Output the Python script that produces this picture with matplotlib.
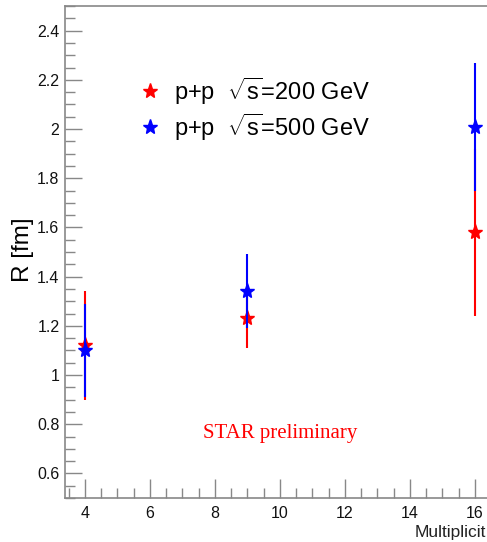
import matplotlib
matplotlib.use('Agg')
import matplotlib.pyplot as plt
from matplotlib.ticker import MultipleLocator

plt.rcParams['font.family'] = ['Liberation Sans', 'DejaVu Sans']
plt.rcParams['mathtext.fontset'] = 'custom'
plt.rcParams['mathtext.rm'] = 'Liberation Sans'

# Data
mult = [4, 9, 16]
r_200 = [1.12, 1.23, 1.58]
err_200 = [0.22, 0.12, 0.34]
r_500 = [1.10, 1.34, 2.01]
err_500 = [0.19, 0.15, 0.26]

fig = plt.figure(figsize=(4.87, 5.42), dpi=100)
W, H = 487, 542
ax = fig.add_axes([65 / W, (H - 498) / H, (W - 65) / W, (498 - 6) / H])

ax.errorbar(mult, r_200, yerr=err_200, fmt='*', color='red', ecolor='red',
            markersize=11, elinewidth=1.5, capsize=0, zorder=3)
ax.errorbar(mult, r_500, yerr=err_500, fmt='*', color='blue', ecolor='blue',
            markersize=11, elinewidth=1.5, capsize=0, zorder=4)

x0 = 3.39
ppu_x = 32.5   # pixels per unit on x
ax.set_xlim(x0, x0 + 422 / ppu_x)
ax.set_ylim(0.5, 2.5)

ax.xaxis.set_major_locator(MultipleLocator(2))
ax.xaxis.set_minor_locator(MultipleLocator(0.5))
ax.yaxis.set_major_locator(MultipleLocator(0.2))
ax.yaxis.set_minor_locator(MultipleLocator(0.05))
ax.yaxis.set_major_formatter(plt.FuncFormatter(lambda v, p: f'{v:g}'))

grey = '#888888'
for s in ['left', 'top', 'bottom']:
    ax.spines[s].set_color(grey)
    ax.spines[s].set_linewidth(1.2)
ax.spines['right'].set_visible(False)

ax.tick_params(which='both', direction='in', color=grey, width=1.0,
               top=False, right=False, labelsize=11.5, labelcolor='#111111')
ax.tick_params(axis='x', which='major', length=14, pad=6)
ax.tick_params(axis='x', which='minor', length=7)
ax.tick_params(axis='y', which='major', length=12, pad=4)
ax.tick_params(axis='y', which='minor', length=7)

fig.text(23 / W, 1 - 250 / H, 'R [fm]', rotation=90, ha='center', va='center',
         fontsize=17.5)
# axis title is cut at the frame edge in the original, only this much shows
fig.text(486 / W, 1 - 533 / H, 'Multiplicit', ha='right', va='center',
         fontsize=12.5, color='#222222')


def px_to_data(px, py):
    return x0 + (px - 65) / ppu_x, 0.6 + (473 - py) / 245


# legend
for py, col, lab in [(92, 'red', '200'), (128, 'blue', '500')]:
    mx, my = px_to_data(150, py)
    ax.plot([mx], [my], '*', color=col, markersize=11)
    tx, ty = px_to_data(174, py)
    ax.text(tx, ty, r'p+p  $\sqrt{\mathrm{s}}$=' + lab + ' GeV', fontsize=17,
            va='center')

sx, sy = px_to_data(203, 433)
ax.text(sx, sy, 'STAR preliminary', color='red', fontsize=15,
        family='Liberation Serif', va='center')

plt.savefig('out.png', dpi=100)
